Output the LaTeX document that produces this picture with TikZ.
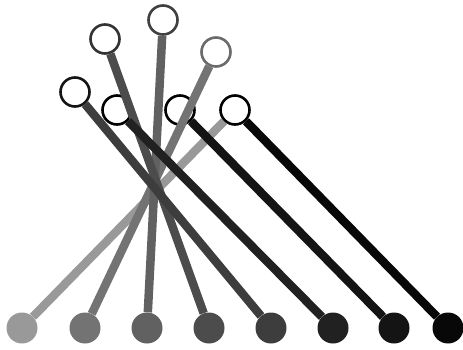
\documentclass[tikz,border=0pt]{standalone}
\begin{document}
\begin{tikzpicture}[x=1pt,y=-1pt,
  topc/.style={circle,draw,fill=white,line width=2.6pt,minimum size=29pt,inner sep=0pt},
  botc/.style={circle,minimum size=31pt,inner sep=0pt},
  link/.style={line width=8.5pt}]
\useasboundingbox (0,0) rectangle (463,350);
\colorlet{s1}{black!40}
\colorlet{s2}{black!55}
\colorlet{s3}{black!62}
\colorlet{s4}{black!70}
\colorlet{s5}{black!76}
\colorlet{s6}{black!87}
\colorlet{s7}{black!92}
\colorlet{s8}{black!97}
% top circles
\node[topc,draw=black!92] (A) at (75,92) {};
\node[topc,draw=black!80] (B) at (105,39) {};
\node[topc,draw=black!75] (C) at (163,20) {};
\node[topc,draw=black!58] (D) at (216,52) {};
\node[topc,draw=black] (E) at (117,110) {};
\node[topc,draw=black] (F) at (180,110) {};
\node[topc,draw=black] (G) at (235,110) {};
% bottom circles
\node[botc,fill=s1] (b1) at (22,328) {};
\node[botc,fill=s2] (b2) at (85,328) {};
\node[botc,fill=s3] (b3) at (147,328) {};
\node[botc,fill=s4] (b4) at (209,328) {};
\node[botc,fill=s5] (b5) at (271,328) {};
\node[botc,fill=s6] (b6) at (333,328) {};
\node[botc,fill=s7] (b7) at (394,328) {};
\node[botc,fill=s8] (b8) at (448,328) {};
% links
\draw[link,s1] (G) -- (b1);
\draw[link,s2] (D) -- (b2);
\draw[link,s3] (C) -- (b3);
\draw[link,s4] (B) -- (b4);
\draw[link,s5] (A) -- (b5);
\draw[link,s6] (E) -- (b6);
\draw[link,s7] (F) -- (b7);
\draw[link,s8] (G) -- (b8);
\end{tikzpicture}
\end{document}
